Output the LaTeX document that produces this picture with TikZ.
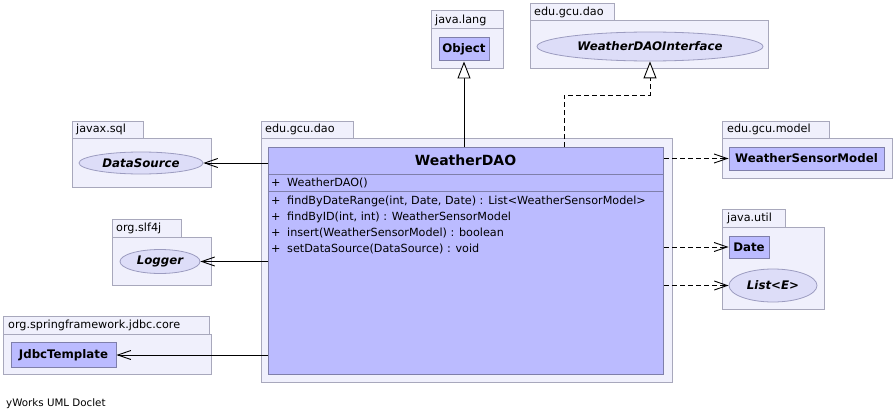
\documentclass[tikz,border=0pt]{standalone}
\usepackage{fontspec}
\setmainfont{DejaVu Sans}
\usetikzlibrary{arrows.meta,shapes.geometric}
\definecolor{pkgfill}{HTML}{F0F0FC}
\definecolor{pkgline}{HTML}{A8A8BC}
\definecolor{clsfill}{HTML}{BBBBFF}
\definecolor{clsline}{HTML}{7F7FAA}
\definecolor{ellfill}{HTML}{DDDDF8}
\definecolor{ellline}{HTML}{9C9CC0}
\begin{document}
\begin{tikzpicture}[x=1pt,y=-1pt,
  pkg/.style={draw=pkgline,fill=pkgfill,line width=1pt},
  pkglabel/.style={anchor=west,inner sep=0pt,font=\fontsize{11.2}{13}\selectfont},
  cls/.style={draw=clsline,fill=clsfill,line width=1pt,inner sep=0pt,font=\bfseries\fontsize{11.8}{14}\selectfont},
  iface/.style={ellipse,draw=ellline,fill=ellfill,line width=0.8pt,inner sep=0pt,font=\bfseries\itshape\fontsize{11.8}{14}\selectfont},
  row/.style={anchor=west,inner sep=0pt,font=\fontsize{11.2}{13}\selectfont},
  assoc/.style={-{Straight Barb[length=13pt,width=9pt]},line width=0.9pt},
  dep/.style={assoc,dash pattern=on 5pt off 3pt},
  gen/.style={-{Triangle[open,length=17pt,width=13pt,fill=white]},line width=0.9pt},
  real/.style={gen,dash pattern=on 5pt off 3pt}]
\useasboundingbox (0,0) rectangle (895,420);
\fill[white] (0,0) rectangle (895,420);

% packages
\draw[pkg] (431,11) rectangle (503,29); \draw[pkg] (431,29) rectangle (503,69);
\node[pkglabel] (l1) at (435,20) {java.lang};
\draw[pkg] (530,4) rectangle (614,21); \draw[pkg] (530,21) rectangle (768,69);
\node[pkglabel] (l2) at (534,12.5) {edu.gcu.dao};
\draw[pkg] (261,121) rectangle (353,138); \draw[pkg] (261,138) rectangle (672,382);
\node[pkglabel] (l3) at (265,129.5) {edu.gcu.dao};
\draw[pkg] (72,121) rectangle (143,138); \draw[pkg] (72,138) rectangle (211,187);
\node[pkglabel] (l4) at (76,129.5) {javax.sql};
\draw[pkg] (112,219) rectangle (181,237); \draw[pkg] (112,237) rectangle (211,285);
\node[pkglabel] (l5) at (116,228) {org.slf4j};
\draw[pkg] (3,316) rectangle (209,334); \draw[pkg] (3,334) rectangle (211,374);
\node[pkglabel] (l6) at (8,325) {org.springframework.jdbc.core};
\draw[pkg] (722,121) rectangle (829,138); \draw[pkg] (722,138) rectangle (892,178);
\node[pkglabel] (l7) at (727,129.5) {edu.gcu.model};
\draw[pkg] (722,209) rectangle (785,227); \draw[pkg] (722,227) rectangle (824,309);
\node[pkglabel] (l8) at (727,218) {java.util};

% classes
\node[cls,minimum width=50pt,minimum height=23pt] (obj) at (464,49.5) {Object};
\node[iface,minimum width=226pt,minimum height=29pt] (ifc) at (650,46.5) {WeatherDAOInterface};
\node[iface,minimum width=124pt,minimum height=22pt] (ds) at (141,163) {DataSource};
\node[iface,minimum width=80pt,minimum height=24pt] (log) at (160,261.5) {Logger};
\node[cls,minimum width=105pt,minimum height=25pt] (jdbc) at (63.5,355) {JdbcTemplate};
\node[cls,minimum width=155pt,minimum height=23pt] (wsm) at (806.5,158.5) {WeatherSensorModel};
\node[cls,minimum width=40pt,minimum height=22pt] (date) at (749,247) {Date};
\node[iface,minimum width=88pt,minimum height=33pt] (lst) at (773,285.5) {List<E>};

% main class
\node[cls,minimum width=395pt,minimum height=227pt,anchor=north west] (wd) at (268,147) {};
\node[inner sep=0pt,font=\bfseries\fontsize{14}{16}\selectfont] (wdt) at (465.5,160) {WeatherDAO};
\draw[clsline,line width=1pt] (wd.west |- 0,174) -- (wd.east |- 0,174);
\draw[clsline,line width=1pt] (wd.west |- 0,191) -- (wd.east |- 0,191);
\node[row] (m0) at (271,183) {\makebox[16pt][l]{+}WeatherDAO()};
\node[row] (m1) at (271,201) {\makebox[16pt][l]{+}findByDateRange(int, Date, Date) : List<WeatherSensorModel>};
\node[row] (m2) at (271,217) {\makebox[16pt][l]{+}findByID(int, int) : WeatherSensorModel};
\node[row] (m3) at (271,233) {\makebox[16pt][l]{+}insert(WeatherSensorModel) : boolean};
\node[row] (m4) at (271,249) {\makebox[16pt][l]{+}setDataSource(DataSource) : void};

% connectors
\draw[gen] (wd.north -| obj.south) -- (obj.south);
\coordinate (r1) at (564,147);
\coordinate (bend) at (650,95);
\draw[real] (r1) |- (bend) -- (ifc.south);
\draw[assoc] (ds.east -| wd.west) -- (ds.east);
\draw[assoc] (log.east -| wd.west) -- (log.east);
\draw[assoc] (jdbc.east -| wd.west) -- (jdbc.east);
\draw[dep] (wsm.west -| wd.east) -- (wsm.west);
\draw[dep] (date.west -| wd.east) -- (date.west);
\draw[dep] (lst.west -| wd.east) -- (lst.west);

\node[anchor=west,inner sep=0pt,font=\fontsize{10.3}{12}\selectfont] (foot) at (6,404) {yWorks UML Doclet};
\end{tikzpicture}
\end{document}
